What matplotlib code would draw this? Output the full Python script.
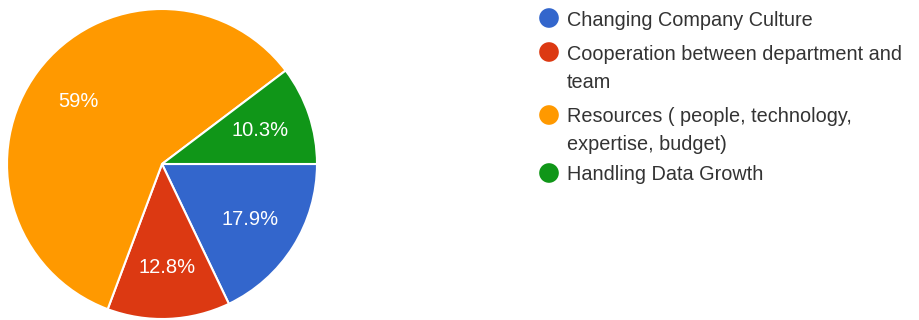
import numpy as np
import matplotlib
matplotlib.use("Agg")
import matplotlib.pyplot as plt

plt.rcParams['font.family'] = ['Liberation Sans', 'DejaVu Sans']

# survey answers, in clockwise order from 3 o'clock
labels = ['Changing Company Culture',
          'Cooperation between department and\nteam',
          'Resources ( people, technology,\nexpertise, budget)',
          'Handling Data Growth']
shares = [17.9, 12.8, 59.0, 10.3]
pct_text = ['17.9%', '12.8%', '59%', '10.3%']
colors = ['#3366cc', '#dc3912', '#ff9900', '#109618']

W, H = 920, 320
fig = plt.figure(figsize=(W / 100, H / 100), dpi=100)

# pie: centre (162, 164) px, radius 155 px
cx, cy, r = 162, 164, 155
ax = fig.add_axes([(cx - r) / W, (H - cy - r) / H, 2 * r / W, 2 * r / H])
wedges, _ = ax.pie(shares, colors=colors, startangle=0, counterclock=False,
                   radius=1.0, wedgeprops=dict(edgecolor='white', linewidth=1.5))

# slice labels at 2/3 of the radius
start = 0.0
for w, txt in zip(shares, pct_text):
    mid = np.radians(-(start + w / 2) * 3.6)
    ax.text(0.67 * np.cos(mid), 0.67 * np.sin(mid), txt, ha='center', va='center',
            color='white', fontsize=14.5)
    start += w
ax.set_xlim(-1, 1)
ax.set_ylim(-1, 1)
ax.axis('off')

# legend drawn in pixel coordinates, one text per line
lax = fig.add_axes([0, 0, 1, 1])
lax.set_xlim(0, W)
lax.set_ylim(H, 0)
lax.axis('off')
rows_y = [18, 52, 115, 173]
line_gap = 28
for y, lab, c in zip(rows_y, labels, colors):
    lax.scatter([549], [y], s=200, color=c, edgecolors='none')
    for i, part in enumerate(lab.split('\n')):
        lax.text(567, y + i * line_gap, part, ha='left', va='center_baseline',
                 fontsize=14.3, color='#333333')

fig.savefig('out.png', dpi=100)
